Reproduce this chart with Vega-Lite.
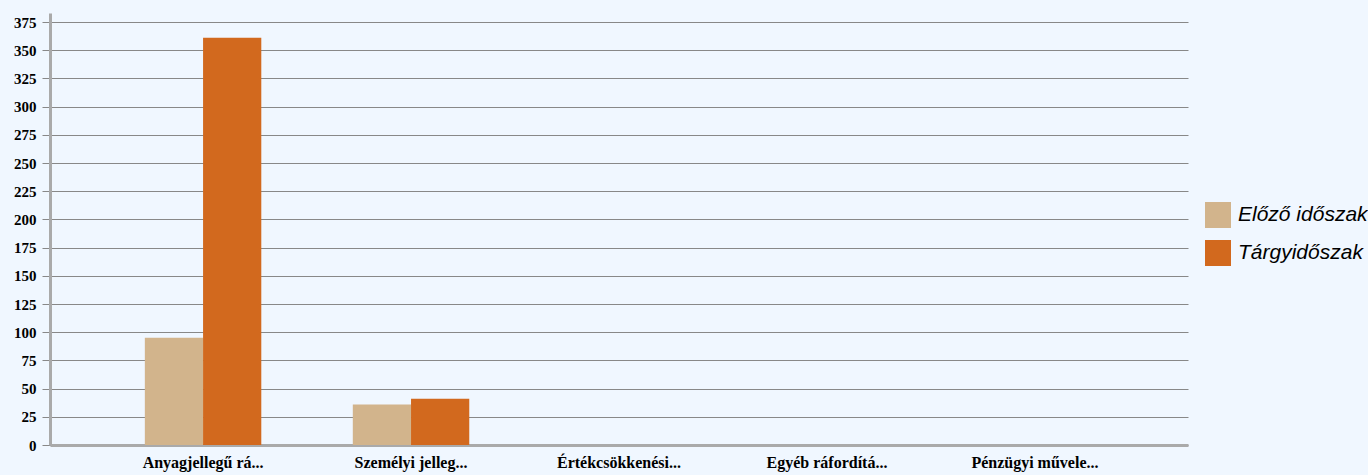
{
  "$schema": "https://vega.github.io/schema/vega-lite/v6.json",
  "width": 1138,
  "height": 432,
  "autosize": {"type": "none"},
  "padding": {"left": 50, "top": 13, "right": 180, "bottom": 30},
  "background": "#F0F7FF",
  "data": {
    "values": [
      {"category": "Anyagjellegű rá...", "period": "Előző időszak", "value": 95},
      {"category": "Anyagjellegű rá...", "period": "Tárgyidőszak", "value": 361},
      {"category": "Személyi jelleg...", "period": "Előző időszak", "value": 36},
      {"category": "Személyi jelleg...", "period": "Tárgyidőszak", "value": 41},
      {"category": "Értékcsökkenési...", "period": "Előző időszak", "value": 0},
      {"category": "Értékcsökkenési...", "period": "Tárgyidőszak", "value": 0},
      {"category": "Egyéb ráfordítá...", "period": "Előző időszak", "value": 0},
      {"category": "Egyéb ráfordítá...", "period": "Tárgyidőszak", "value": 0},
      {"category": "Pénzügyi művele...", "period": "Előző időszak", "value": 0},
      {"category": "Pénzügyi művele...", "period": "Tárgyidőszak", "value": 0}
    ]
  },
  "mark": {"type": "bar"},
  "encoding": {
    "x": {
      "field": "category",
      "type": "nominal",
      "sort": null,
      "title": null,
      "scale": {"paddingInner": 0.44, "paddingOuter": 0.456},
      "axis": {
        "labelAngle": 0,
        "labelFont": "Liberation Serif",
        "labelFontWeight": "bold",
        "labelFontSize": 16,
        "labelColor": "#000000",
        "labelPadding": 9,
        "ticks": false,
        "domainColor": "#AAAAAA",
        "domainWidth": 3,
        "grid": false
      }
    },
    "xOffset": {"field": "period", "type": "nominal", "sort": ["Előző időszak", "Tárgyidőszak"]},
    "y": {
      "field": "value",
      "type": "quantitative",
      "title": null,
      "scale": {"domain": [0, 383], "nice": false},
      "axis": {
        "values": [0, 25, 50, 75, 100, 125, 150, 175, 200, 225, 250, 275, 300, 325, 350, 375],
        "labelFont": "Liberation Serif",
        "labelFontWeight": "bold",
        "labelFontSize": 15,
        "labelColor": "#000000",
        "labelPadding": 6,
        "tickSize": 8,
        "tickColor": "#888888",
        "gridColor": "#888888",
        "gridWidth": 1,
        "domainColor": "#AAAAAA",
        "domainWidth": 3,
        "grid": true
      }
    },
    "color": {
      "field": "period",
      "type": "nominal",
      "sort": ["Előző időszak", "Tárgyidőszak"],
      "scale": {"domain": ["Előző időszak", "Tárgyidőszak"], "range": ["#D2B48C", "#D2691E"]},
      "legend": {
        "title": null,
        "orient": "none",
        "legendX": 1155,
        "legendY": 189,
        "symbolType": "square",
        "symbolSize": 676,
        "symbolStrokeWidth": 0,
        "labelFont": "Liberation Sans",
        "labelFontStyle": "italic",
        "labelFontSize": 21,
        "labelColor": "#000000",
        "labelOffset": 7,
        "labelLimit": 300,
        "rowPadding": 12
      }
    }
  },
  "config": {
    "view": {"stroke": null}
  }
}
